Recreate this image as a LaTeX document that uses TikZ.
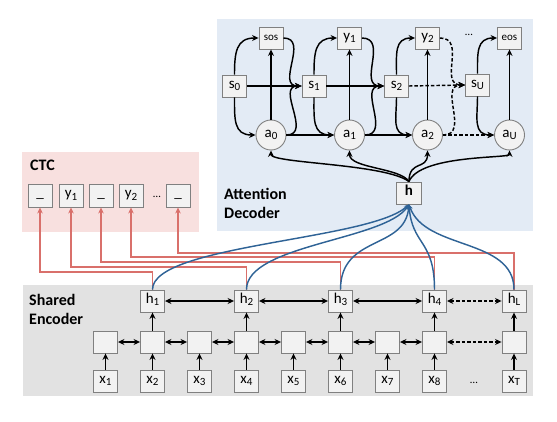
\documentclass[tikz,border=0pt]{standalone}
\usepackage{fontspec}
\setmainfont{Carlito}
\usetikzlibrary{arrows.meta,calc}
\definecolor{bgblue}{HTML}{E3EBF5}
\definecolor{bgpink}{HTML}{F8E0DF}
\definecolor{bggray}{HTML}{E2E2E2}
\definecolor{boxline}{HTML}{808080}
\definecolor{boxfill}{HTML}{F2F2F2}
\definecolor{ctcred}{HTML}{D9706B}
\definecolor{encblue}{HTML}{2F6396}
\newcommand\sbs[1]{\raisebox{-2.2pt}{\fontsize{11}{11}\selectfont #1}}
\begin{document}
\begin{tikzpicture}[x=1pt,y=1pt,
  cell/.style={draw=boxline, fill=boxfill, line width=0.9pt, minimum width=24pt,
    minimum height=22pt, inner sep=0pt, font=\fontsize{15}{15}\selectfont,
    text height=8pt, text depth=3pt},
  smallcell/.style={cell, font=\fontsize{11}{11}\selectfont, text height=6pt, text depth=1pt},
  circ/.style={circle, draw=boxline, fill=boxfill, line width=0.9pt, minimum size=30pt,
    inner sep=0pt, font=\fontsize{15}{15}\selectfont},
  lbl/.style={inner sep=0pt, anchor=base west, font=\fontsize{16}{19}\selectfont\bfseries},
  tip/.tip={Stealth[length=6.5pt,width=6pt]},
  arr/.style={line width=1.45pt, -tip},
  barr/.style={line width=1.45pt, tip-tip},
  dsh/.style={dash pattern=on 3.5pt off 2pt},
  ctc/.style={draw=ctcred, line width=1.3pt, -{Stealth[length=6pt,width=5.5pt]}},
  enc/.style={draw=encblue, line width=1.45pt, -{Stealth[length=5pt,width=4.5pt]}},
  lp/.style={looseness=1.3}
]
\useasboundingbox (0,0) rectangle (557,421);
% backgrounds
\fill[bgblue] (217,190) rectangle (533,402);
\fill[bgpink] (22,189) rectangle (199,269);
\fill[bggray] (23,25) rectangle (533,136);
% labels
\node[lbl] (lctc) at (30,250) {CTC};
\node[lbl] (latt1) at (224,221) {Attention};
\node[lbl] (latt2) at (224,202) {Decoder};
\node[lbl] (lenc1) at (29,116) {Shared};
\node[lbl] (lenc2) at (29,97) {Encoder};
% decoder nodes
\node[smallcell] (sos) at (271,383) {sos};
\node[cell] (y1) at (349.5,383) {y\sbs{1}};
\node[cell] (y2) at (427.5,383) {y\sbs{2}};
\node[smallcell] (eos) at (509.5,383) {eos};
\node[inner sep=0pt, font=\fontsize{11}{11}\selectfont] (ddots) at (469,386) {…};
\node[cell] (s0) at (234.5,335) {s\sbs{0}};
\node[cell] (s1) at (314,335) {s\sbs{1}};
\node[cell] (s2) at (396.5,335) {s\sbs{2}};
\node[cell] (sU) at (477.5,336) {s\sbs{U}};
\node[circ] (a0) at (271,286) {a\sbs{0}};
\node[circ] (a1) at (349.5,286) {a\sbs{1}};
\node[circ] (a2) at (427.5,286) {a\sbs{2}};
\node[circ] (aU) at (509.5,286) {a\sbs{U}};
\node[cell, minimum width=25pt, font=\fontsize{15}{15}\selectfont\bfseries] (h) at (409,228) {h};
% CTC nodes
\node[cell, minimum height=23pt] (c1) at (40,225.5) {\_};
\node[cell, minimum height=23pt] (c2) at (71,225.5) {y\sbs{1}};
\node[cell, minimum height=23pt] (c3) at (101,225.5) {\_};
\node[cell, minimum height=23pt] (c4) at (131,225.5) {y\sbs{2}};
\node[inner sep=0pt, font=\fontsize{11}{11}\selectfont] (cdots) at (157,224) {…};
\node[cell, minimum height=23pt] (c5) at (178,225.5) {\_};
% encoder nodes
\foreach \i/\xx in {1/105.5,2/152.5,3/199.5,4/246.5,5/293.5,6/340.5,7/387.5,8/434.5,9/514}{
  \node[cell] (m\i) at (\xx,79) {};
}
\foreach \i/\xx in {1/105.5,2/152.5,3/199.5,4/246.5,5/293.5,6/340.5,7/387.5,8/434.5}{
  \node[cell] (x\i) at (\xx,40) {x\sbs{\i}};
}
\node[inner sep=0pt, font=\fontsize{11}{11}\selectfont] (xdots) at (474,38) {…};
\node[cell] (xT) at (514,40) {x\sbs{T}};
\node[cell] (h1) at (152.5,120) {h\sbs{1}};
\node[cell] (h2) at (246.5,120) {h\sbs{2}};
\node[cell] (h3) at (340.5,120) {h\sbs{3}};
\node[cell] (h4) at (434.5,120) {h\sbs{4}};
\node[cell] (hL) at (514,120) {h\sbs{L}};
% encoder arrows
\foreach \i in {1,...,8}{ \draw[arr] (x\i.north) -- (m\i.south); }
\draw[arr] (xT.north) -- (m9.south);
\foreach \i/\j in {1/2,2/3,3/4,4/5,5/6,6/7,7/8}{ \draw[barr] (m\i.east) -- (m\j.west); }
\draw[barr,dsh] (m8.east) -- (m9.west);
\draw[arr] (m2.north) -- (h1.south);
\draw[arr] (m4.north) -- (h2.south);
\draw[arr] (m6.north) -- (h3.south);
\draw[arr] (m8.north) -- (h4.south);
\draw[arr] (m9.north) -- (hL.south);
\draw[barr] (h1.east) -- (h2.west);
\draw[barr] (h2.east) -- (h3.west);
\draw[barr] (h3.east) -- (h4.west);
\draw[barr,dsh] (h4.east) -- (hL.west);
% CTC connections
\coordinate (l1) at (0,149);
\coordinate (l2) at (0,154);
\coordinate (l3) at (0,159);
\coordinate (l4) at (0,164);
\coordinate (l5) at (0,168);
\draw[ctc] (h1.north) -- (h1.north |- l1) -| (c1.south);
\draw[ctc] (h2.north) -- (h2.north |- l2) -| (c2.south);
\draw[ctc] (h3.north) -- (h3.north |- l3) -| (c3.south);
\draw[ctc] (h4.north) -- (h4.north |- l4) -| (c4.south);
\draw[ctc] (hL.north) -- (hL.north |- l5) -| (c5.south);
% encoder to h
\draw[enc] (h1.north) .. controls +(0,45) and +(-39,-36) .. (h.south);
\draw[enc] (h2.north) .. controls +(0,45) and +(-24,-36) .. (h.south);
\draw[enc] (h3.north) .. controls +(0,55) and +(-4,-46) .. (h.south);
\draw[enc] (h4.north) .. controls +(0,50) and +(3,-41) .. (h.south);
\draw[enc] (hL.north) .. controls +(0,52) and +(16,-46) .. (h.south);
% h to attention
\draw[arr] (h.north) .. controls +(-24,18) and +(0,-13) .. (a0.south);
\draw[arr] (h.north) .. controls +(-9,14) and +(0,-18) .. (a1.south);
\draw[arr] (h.north) .. controls +(0,22) and +(0,-20) .. (a2.south);
\draw[arr] (h.north) .. controls +(11,27) and +(0,-8) .. (aU.south);
% decoder arrows
\draw[arr] (s0.east) -- (s1.west);
\draw[arr] (s1.east) -- (s2.west);
\draw[arr,dsh] (s2.east) -- (sU.west);
\draw[arr] (a0.east) -- (a1.west);
\draw[arr] (a1.east) -- (a2.west);
\draw[arr,dsh] (a2.east) -- (aU.west);
\draw[arr] (a0.north) -- (sos.south);
\draw[arr] (a1.north) -- (y1.south);
\draw[arr] (a2.north) -- (y2.south);
\draw[arr] (aU.north) -- (eos.south);
\draw[arr] (s0.north) to[out=90,in=180,lp] (sos.west);
\draw[arr] (s0.south) to[out=-90,in=180,lp] (a0.west);
\draw[arr] (sos.east) to[out=0,in=180,lp] (s1.west);
\draw[arr] (a0.east) to[out=0,in=180,lp] (s1.west);
\draw[arr] (s1.north) to[out=90,in=180,lp] (y1.west);
\draw[arr] (s1.south) to[out=-90,in=180,lp] (a1.west);
\draw[arr] (y1.east) to[out=0,in=180,lp] (s2.west);
\draw[arr] (a1.east) to[out=0,in=180,lp] (s2.west);
\draw[arr] (s2.north) to[out=90,in=180,lp] (y2.west);
\draw[arr] (s2.south) to[out=-90,in=180,lp] (a2.west);
\draw[arr,dsh] (y2.east) to[out=0,in=180,lp] (sU.west);
\draw[arr,dsh] (a2.east) to[out=0,in=180,lp] (sU.west);
\draw[arr] (sU.north) to[out=90,in=180,lp] (eos.west);
\draw[arr] (sU.south) to[out=-90,in=180,lp] (aU.west);
\end{tikzpicture}
\end{document}
